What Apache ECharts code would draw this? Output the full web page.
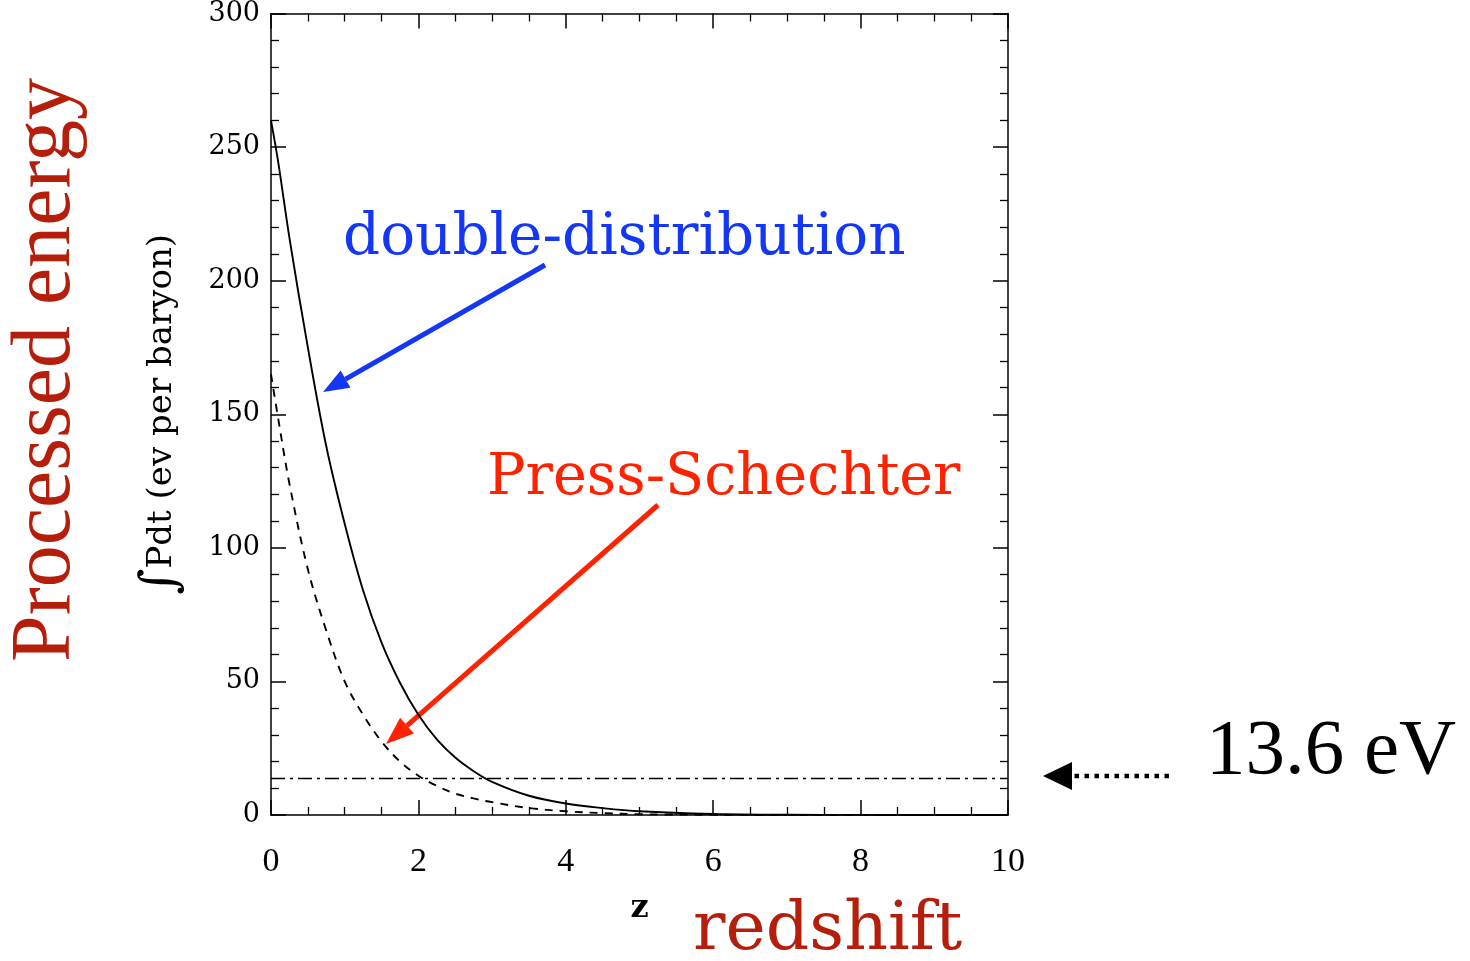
<!DOCTYPE html>
<html>
<head>
<meta charset="utf-8">
<title>Processed energy vs redshift</title>
<script src="https://cdn.jsdelivr.net/npm/echarts@6/dist/echarts.min.js"></script>
<style>
  html, body { margin: 0; padding: 0; background: #fff; }
  #chart { width: 1470px; height: 961px; }
</style>
</head>
<body>
<div id="chart"></div>
<script>
// redshift samples shared by both curves
const redshift = [0, 0.1, 0.25, 0.5, 0.75, 1.0, 1.25, 1.5, 1.75, 2.0, 2.25, 2.5, 2.75, 3.0, 3.5, 4.0, 4.5, 5, 6, 7, 8, 9, 10];
// integrated processed energy (eV per baryon)
const doubleDistribution = [260, 244, 216, 175, 138, 109, 84, 64.5, 49.5, 37.5, 28.3, 21.5, 16.4, 12.4, 7.2, 4.3, 2.6, 1.4, 0.4, 0.1, 0.05, 0, 0];
const pressSchechter = [165, 148, 124, 92, 69, 50, 37.5, 27.5, 20, 14.7, 10.9, 8, 6.2, 4.8, 2.6, 1.4, 0.7, 0.3, 0.1, 0, 0, 0, 0];
const ionisationEnergy = 13.6;

const zRange = [0, 10];
const energyRange = [0, 300];

function pairs(ys) {
    return redshift.map((z, i) => [z, ys[i]]);
}

// arrow = line + triangular head, tip at (x1, y1)
function arrow(x0, y0, x1, y1, color, width, headLen, headHalf, dash) {
    let dx = x1 - x0, dy = y1 - y0;
    let len = Math.hypot(dx, dy);
    let ux = dx / len, uy = dy / len;
    let bx = x1 - ux * headLen, by = y1 - uy * headLen;
    return [
        {
            type: 'line', silent: true,
            shape: { x1: x0, y1: y0, x2: bx, y2: by },
            style: { stroke: color, lineWidth: width, lineDash: dash || null }
        },
        {
            type: 'polygon', silent: true,
            shape: { points: [[x1, y1], [bx - uy * headHalf, by + ux * headHalf], [bx + uy * headHalf, by - ux * headHalf]] },
            style: { fill: color }
        }
    ];
}

function label(text, x, y, font, size, color, rotation) {
    return {
        type: 'text', silent: true, x: x, y: y, rotation: rotation || 0,
        style: {
            text: text, fill: color, fontFamily: font, fontSize: size,
            align: rotation ? 'center' : 'left', verticalAlign: 'middle',
            textAlign: rotation ? 'center' : 'left', textVerticalAlign: 'middle'
        }
    };
}

const black = '#000';
const tickLine = { color: black, width: 1.5 };

function xAxisDef(position, showLabel) {
    return {
        type: 'value', position: position,
        min: zRange[0], max: zRange[1], interval: 2,
        axisLine: { show: true, onZero: false, lineStyle: tickLine },
        axisTick: { inside: true, length: 15, lineStyle: tickLine },
        minorTick: { show: true, splitNumber: 4, length: 8, lineStyle: { color: black, width: 1.3 } },
        splitLine: { show: false },
        axisLabel: { show: showLabel, margin: 30, fontFamily: 'Liberation Serif', fontSize: 34, color: black }
    };
}

function yAxisDef(position, showLabel) {
    return {
        type: 'value', position: position,
        min: energyRange[0], max: energyRange[1], interval: 50,
        axisLine: { show: true, onZero: false, lineStyle: tickLine },
        axisTick: { inside: true, length: 15, lineStyle: tickLine },
        minorTick: { show: true, splitNumber: 5, length: 8, lineStyle: { color: black, width: 1.3 } },
        splitLine: { show: false },
        axisLabel: { show: showLabel, margin: 11, fontFamily: 'DejaVu Serif', fontSize: 27, color: black }
    };
}

let bottomX = xAxisDef('bottom', true);
bottomX.name = 'z';
bottomX.nameLocation = 'middle';
bottomX.nameGap = 78;
bottomX.nameTextStyle = { fontFamily: 'DejaVu Serif', fontSize: 32, fontWeight: 'bold', color: black };

let leftY = yAxisDef('left', true);
leftY.name = '{int|\u222B}{t|Pdt (ev per baryon)}';
leftY.nameLocation = 'middle';
leftY.nameRotate = 90;
leftY.nameGap = 84;
leftY.nameTextStyle = {
    color: black,
    rich: {
        int: { fontFamily: 'DejaVu Serif', fontSize: 50, color: black },
        t: { fontFamily: 'DejaVu Serif', fontSize: 34, color: black }
    }
};

let chart = echarts.init(document.getElementById('chart'));

let option = {
    animation: false,
    backgroundColor: '#fff',
    grid: { left: 271, right: 462, top: 12, bottom: 146 },
    xAxis: [bottomX, xAxisDef('top', false)],
    yAxis: [leftY, yAxisDef('right', false)],
    series: [
        {
            name: 'double-distribution', type: 'line',
            data: pairs(doubleDistribution),
            smooth: 0.35, showSymbol: false,
            lineStyle: { color: black, width: 1.9 },
            markLine: {
                silent: true, symbol: 'none', label: { show: false },
                lineStyle: { color: black, width: 1.3, type: [14, 5, 3, 5] },
                data: [{ yAxis: ionisationEnergy }]
            }
        },
        {
            name: 'Press-Schechter', type: 'line',
            data: pairs(pressSchechter),
            smooth: 0.35, showSymbol: false,
            lineStyle: { color: black, width: 1.9, type: [8, 7] }
        }
    ],
    graphic: [
        label('double-distribution', 343, 239, 'DejaVu Serif', 58, '#1437f5'),
        ...arrow(545, 265, 323, 392, '#1437f5', 5, 26, 10),
        label('Press-Schechter', 487, 479, 'DejaVu Serif', 57.3, '#ff2200'),
        ...arrow(658, 505, 386, 744, '#ff2200', 5, 28, 10.5),
        label('13.6 eV', 1206, 752, 'Liberation Serif', 79, black),
        ...arrow(1169, 776, 1043, 776, black, 4.5, 29, 14, [4.5, 5.5]),
        label('redshift', 693, 931, 'DejaVu Serif', 68, '#b41e0a'),
        label('Processed energy', 47, 370, 'Liberation Serif', 84, '#b41e0a', Math.PI / 2)
    ]
};

chart.setOption(option);
</script>
</body>
</html>
